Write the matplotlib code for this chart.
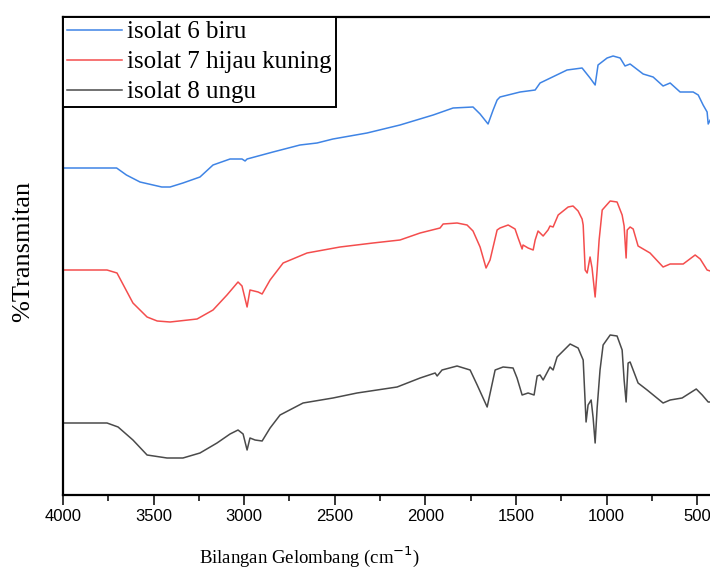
import numpy as np
import matplotlib.pyplot as plt
from matplotlib.ticker import MultipleLocator

# wavenumbers (cm-1) and %T (arbitrary offset scale)
wn_biru = [4000, 3757, 3704, 3650, 3575, 3455, 3409, 3338, 3244, 3172, 3078, 3012, 2995, 2984,
           2841, 2692, 2598, 2510, 2322, 2140, 1957, 1847, 1737, 1698, 1654, 1626, 1604, 1588,
           1477, 1394, 1367, 1218, 1135, 1091, 1063, 1047, 997, 964, 925, 898, 870, 798, 743,
           688, 649, 594, 522, 494, 467, 445, 439, 428]
t_biru = [332, 332, 332, 325, 318, 313, 313, 317, 323, 335, 341, 341, 339, 341,
          348, 355, 357, 361, 367, 375, 385, 392, 393, 386, 376, 390, 400, 403,
          408, 410, 417, 430, 432, 422, 415, 435, 442, 444, 442, 434, 436, 426, 423,
          414, 417, 408, 408, 405, 395, 388, 376, 380]

wn_hijau = [4000, 3757, 3702, 3614, 3536, 3480, 3409, 3260, 3172, 3095, 3034, 3012, 2984, 2968,
            2923, 2901, 2857, 2785, 2653, 2471, 2289, 2140, 2029, 1919, 1902, 1825, 1770, 1737,
            1698, 1665, 1643, 1604, 1588, 1543, 1505, 1488, 1466, 1461, 1433, 1405, 1394, 1378,
            1350, 1323, 1312, 1295, 1267, 1212, 1185, 1157, 1135, 1129, 1118, 1107, 1091, 1080,
            1063, 1052, 1041, 1024, 980, 942, 914, 903, 892, 886, 870, 853, 826, 760, 688, 649,
            577, 511, 483, 445, 428]
t_hijau = [230, 230, 227, 197, 183, 179, 178, 181, 190, 205, 218, 214, 193, 210,
           208, 206, 220, 237, 247, 253, 257, 260, 267, 272, 276, 277, 275, 269,
           253, 232, 240, 270, 272, 275, 271, 262, 251, 255, 252, 250, 260, 269,
           264, 270, 274, 273, 285, 293, 294, 289, 281, 275, 230, 227, 243, 232,
           203, 230, 260, 290, 299, 298, 285, 274, 242, 270, 273, 271, 254, 247, 233, 236,
           236, 245, 241, 230, 229]

wn_ungu = [4000, 3757, 3696, 3614, 3536, 3426, 3338, 3244, 3150, 3078, 3034, 3006, 2984, 2968,
           2940, 2901, 2857, 2802, 2675, 2510, 2377, 2156, 2029, 1946, 1935, 1908, 1825, 1753,
           1714, 1659, 1615, 1571, 1516, 1494, 1466, 1433, 1400, 1383, 1367, 1350, 1312, 1295,
           1273, 1201, 1157, 1129, 1113, 1102, 1085, 1074, 1063, 1052, 1036, 1019, 980, 942,
           914, 903, 892, 881, 870, 826, 776, 688, 649, 583, 505, 472, 439, 428]
t_ungu = [77, 77, 73, 60, 45, 42, 42, 47, 57, 66, 70, 66, 50, 62,
          60, 59, 72, 85, 97, 102, 107, 113, 122, 127, 124, 130, 134, 130,
          115, 93, 130, 133, 132, 122, 105, 107, 105, 124, 125, 120, 133, 130,
          143, 156, 152, 140, 78, 95, 100, 82, 57, 92, 130, 155, 165, 164,
          150, 120, 98, 137, 138, 117, 110, 97, 100, 102, 111, 105, 98, 98]

labels = ["isolat 6 biru", "isolat 7 hijau kuning", "isolat 8 ungu"]
colors = ["#3f84e5", "#f44d4d", "#4a4a4a"]

fig = plt.figure(figsize=(7.1, 5.7), dpi=100)
ax = fig.add_axes([63 / 710, 75 / 570, 649 / 710, 478 / 570])

ax.plot(wn_biru, t_biru, color=colors[0], lw=1.1, label=labels[0])
ax.plot(wn_hijau, t_hijau, color=colors[1], lw=1.1, label=labels[1])
ax.plot(wn_ungu, t_ungu, color=colors[2], lw=1.1, label=labels[2])

ax.set_xlim(4000, 418)
ax.set_ylim(5, 483)
ax.xaxis.set_minor_locator(MultipleLocator(250))
ax.set_xticks([4000, 3500, 3000, 2500, 2000, 1500, 1000, 500])
ax.set_yticks([])
ax.tick_params(axis="x", which="major", direction="out", length=7, width=1.1,
               labelsize=12, pad=3)
ax.tick_params(axis="x", which="minor", direction="out", length=4, width=1.1)
for lab in ax.get_xticklabels():
    lab.set_family("Liberation Sans")
for s in ax.spines.values():
    s.set_linewidth(1.6)

ax.set_xlabel("Bilangan Gelombang (cm$^{-1}$)", family="Liberation Serif", fontsize=13.5)
ax.xaxis.set_label_coords(0.38, -0.104)
ax.set_ylabel("%Transmitan", family="Liberation Serif", fontsize=19)
ax.yaxis.set_label_coords(-0.044, 0.51)

leg = ax.legend(loc="upper left", borderaxespad=0, prop={"family": "Liberation Serif", "size": 18},
                fancybox=False, edgecolor="black", framealpha=1, handlelength=2.2,
                labelspacing=0.3, handletextpad=0.22, borderpad=0.15)
leg.get_frame().set_linewidth(1.4)

fig.savefig("out.png", dpi=100)
